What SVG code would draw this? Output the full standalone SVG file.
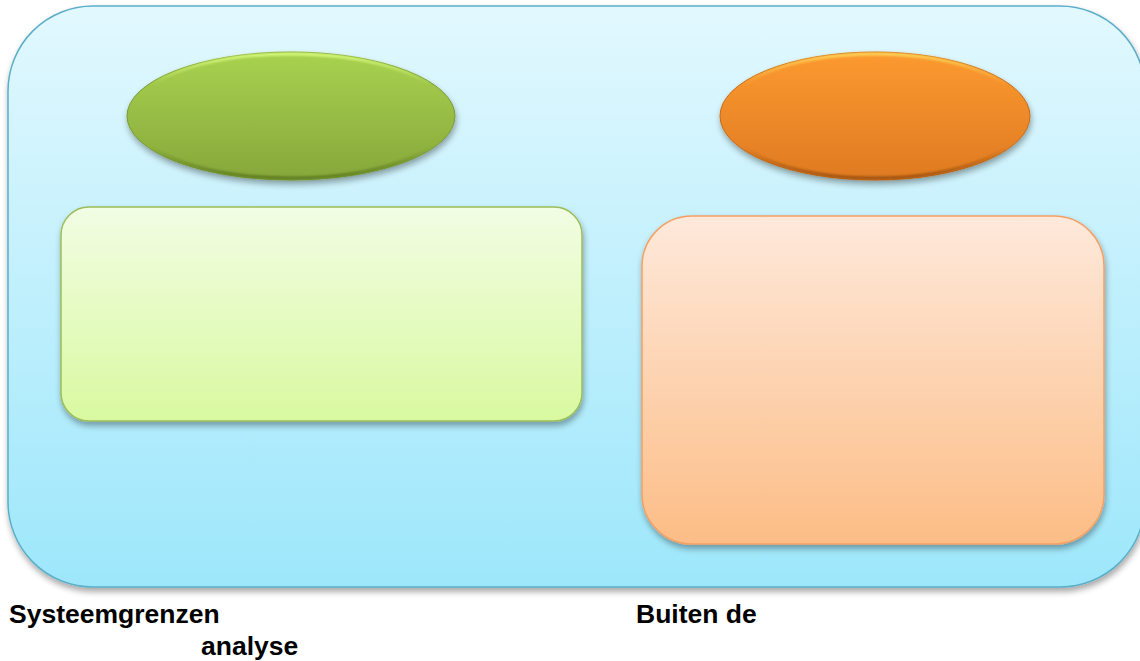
<svg xmlns="http://www.w3.org/2000/svg" width="1140" height="661" viewBox="0 0 1140 661">
  <defs>
    <linearGradient id="gOuter" x1="0" y1="0" x2="0" y2="1">
      <stop offset="0" stop-color="#e2f8fe"/>
      <stop offset="1" stop-color="#9de7fb"/>
    </linearGradient>
    <linearGradient id="gGreenEl" x1="0" y1="0" x2="0" y2="1">
      <stop offset="0" stop-color="#a9d250"/>
      <stop offset="1" stop-color="#86a73a"/>
    </linearGradient>
    <linearGradient id="gOrangeEl" x1="0" y1="0" x2="0" y2="1">
      <stop offset="0" stop-color="#fc9a30"/>
      <stop offset="1" stop-color="#df7a22"/>
    </linearGradient>
    <linearGradient id="gGreenEdge" x1="0" y1="0" x2="0" y2="1">
      <stop offset="0" stop-color="#d6fa7c" stop-opacity="1"/>
      <stop offset="0.25" stop-color="#d6fa7c" stop-opacity="0"/>
      <stop offset="0.75" stop-color="#5c7a20" stop-opacity="0"/>
      <stop offset="1" stop-color="#5c7a20" stop-opacity="1"/>
    </linearGradient>
    <linearGradient id="gOrangeEdge" x1="0" y1="0" x2="0" y2="1">
      <stop offset="0" stop-color="#fdd458" stop-opacity="1"/>
      <stop offset="0.25" stop-color="#fdd458" stop-opacity="0"/>
      <stop offset="0.75" stop-color="#9a5010" stop-opacity="0"/>
      <stop offset="1" stop-color="#9a5010" stop-opacity="1"/>
    </linearGradient>
    <linearGradient id="gGreenRect" x1="0" y1="0" x2="0" y2="1">
      <stop offset="0" stop-color="#f2fde4"/>
      <stop offset="1" stop-color="#d9f9a0"/>
    </linearGradient>
    <linearGradient id="gOrangeRect" x1="0" y1="0" x2="0" y2="1">
      <stop offset="0" stop-color="#fee9db"/>
      <stop offset="1" stop-color="#fcbd86"/>
    </linearGradient>
    <filter id="shadow" x="-10%" y="-10%" width="120%" height="125%">
      <feGaussianBlur in="SourceAlpha" stdDeviation="3"/>
      <feOffset dx="1" dy="4" result="b"/>
      <feComponentTransfer><feFuncA type="linear" slope="0.35"/></feComponentTransfer>
      <feMerge><feMergeNode/><feMergeNode in="SourceGraphic"/></feMerge>
    </filter>
    <filter id="soft" x="-5%" y="-5%" width="110%" height="110%">
      <feGaussianBlur stdDeviation="1"/>
    </filter>
  </defs>
  <style>
    .label { font-family: "Liberation Sans", Arial, sans-serif; font-weight: bold; font-size: 26.5px; fill: #000; }
  </style>
  <rect width="1140" height="661" fill="#ffffff"/>
  <g id="outer">
    <rect x="8" y="6" width="1137" height="581" rx="85" ry="85" fill="url(#gOuter)" stroke="#5aaec8" stroke-width="1.5" filter="url(#shadow)"/>
  </g>
  <g id="green-ellipse">
    <ellipse cx="291" cy="116" rx="164" ry="64" fill="url(#gGreenEl)" stroke="#7a9a30" stroke-width="1" filter="url(#shadow)"/>
    <ellipse cx="291" cy="116" rx="162" ry="62" fill="none" stroke="url(#gGreenEdge)" stroke-width="3" filter="url(#soft)"/>
  </g>
  <g id="orange-ellipse">
    <ellipse cx="875" cy="116" rx="155" ry="64" fill="url(#gOrangeEl)" stroke="#c86a18" stroke-width="1" filter="url(#shadow)"/>
    <ellipse cx="875" cy="116" rx="153" ry="62" fill="none" stroke="url(#gOrangeEdge)" stroke-width="3" filter="url(#soft)"/>
  </g>
  <g id="green-box">
    <rect x="61" y="207" width="521" height="214" rx="28" ry="28" fill="url(#gGreenRect)" stroke="#9cbd58" stroke-width="1.5" filter="url(#shadow)"/>
  </g>
  <g id="orange-box">
    <rect x="642" y="216" width="462" height="328" rx="50" ry="50" fill="url(#gOrangeRect)" stroke="#f5a064" stroke-width="1.5" filter="url(#shadow)"/>
  </g>
  <g id="connectors"></g>
  <g id="labels">
    <text class="label" x="9" y="623">Systeemgrenzen</text>
    <text class="label" x="201" y="655">analyse</text>
    <text class="label" x="636" y="623">Buiten de</text>
  </g>
</svg>
